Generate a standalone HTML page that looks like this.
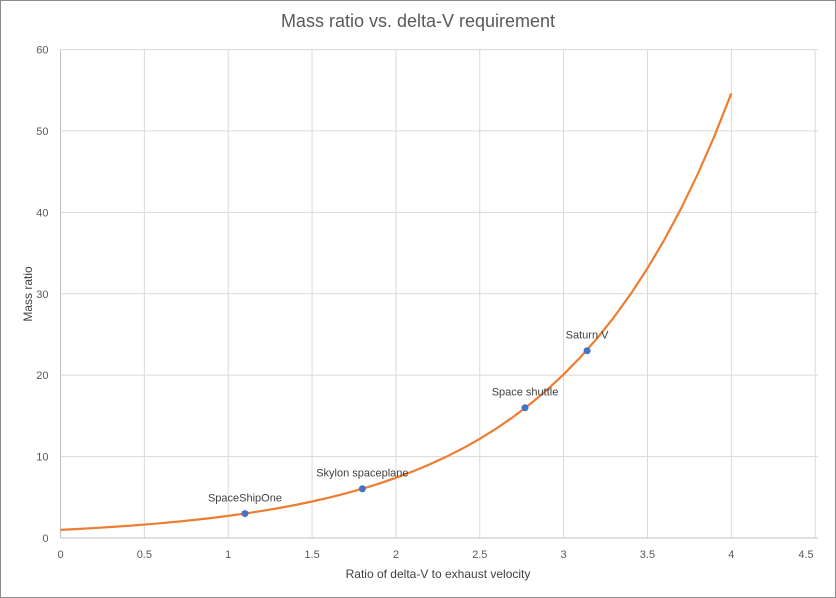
<!DOCTYPE html>
<html><head><meta charset="utf-8"><style>
body{margin:0;background:#fff;}
svg{display:block;font-family:"Liberation Sans",sans-serif;}
</style></head><body>
<svg id="c" width="836" height="598">
<rect x="0.5" y="0.5" width="835" height="597" fill="#fff" stroke="#8c8c8c"/>
<text x="418" y="27" text-anchor="middle" font-size="18" fill="#595959">Mass ratio vs. delta-V requirement</text>
<g id="grid"></g><g id="ticks"></g><g id="series"></g><g id="pts"></g>
<text x="438" y="578" text-anchor="middle" font-size="12" fill="#404040">Ratio of delta-V to exhaust velocity</text>
<text transform="translate(32,294) rotate(-90)" text-anchor="middle" font-size="12" fill="#404040">Mass ratio</text>
</svg>
<script>
const xTicks=[0,0.5,1,1.5,2,2.5,3,3.5,4,4.5];
const yTicks=[0,10,20,30,40,50,60];
const curveX=[0,0.1,0.2,0.3,0.4,0.5,0.6,0.7,0.8,0.9,1,1.1,1.2,1.3,1.4,1.5,1.6,1.7,1.8,1.9,2,2.1,2.2,2.3,2.4,2.5,2.6,2.7,2.8,2.9,3,3.1,3.2,3.3,3.4,3.5,3.6,3.7,3.8,3.9,4];
const curveY=[1,1.105,1.221,1.35,1.492,1.649,1.822,2.014,2.226,2.46,2.718,3.004,3.32,3.669,4.055,4.482,4.953,5.474,6.05,6.686,7.389,8.166,9.025,9.974,11.02,12.18,13.46,14.88,16.44,18.17,20.09,22.2,24.53,27.11,29.96,33.12,36.6,40.45,44.7,49.4,54.6];
const vehicles=["SpaceShipOne","Skylon spaceplane","Space shuttle","Saturn V"];
const vehX=[1.1,1.8,2.77,3.14];
const vehY=[3.0,6.05,16.0,23.0];
const X0=60.5,X1=818,Y0=538,Y1=49.5;
const xs=v=>Math.min(X0+v*167.7,X1), ys=v=>Y0-(v/60)*(Y0-Y1);
const NS="http://www.w3.org/2000/svg";
function mk(t,a,p){const e=document.createElementNS(NS,t);for(const k in a)e.setAttribute(k,a[k]);document.getElementById(p).appendChild(e);return e;}
xTicks.forEach(v=>{
 const l=mk('line',{x1:xs(v),x2:xs(v),y1:Y1,y2:Y0,stroke:v===0?'#bfbfbf':'#d9d9d9'},'grid');
 
 
 const t=mk('text',{x:v===4.5?806:xs(v),y:Y0+20,'text-anchor':'middle','font-size':11,fill:'#595959'},'ticks');t.textContent=v;
 
 
});
yTicks.forEach(v=>{
 const l=mk('line',{x1:X0,x2:X1,y1:ys(v),y2:ys(v),stroke:v===0?'#bfbfbf':'#d9d9d9'},'grid');
 
 
 const t=mk('text',{x:X0-12,y:ys(v)+4,'text-anchor':'end','font-size':11,fill:'#595959'},'ticks');t.textContent=v;
 
 
});
const p=mk('polyline',{points:curveX.map((x,i)=>xs(x)+','+ys(curveY[i])).join(' '),fill:'none',stroke:'#ed7d31','stroke-width':2.2,'stroke-linejoin':'round'},'series');


vehicles.forEach((n,i)=>{
 const c=mk('circle',{cx:xs(vehX[i]),cy:ys(vehY[i]),r:3.5,fill:'#4472c4'},'pts');
 
 
 const t=mk('text',{x:xs(vehX[i]),y:ys(vehY[i])-12,'text-anchor':'middle','font-size':11,fill:'#404040'},'pts');t.textContent=n;
 
 
});
</script>
</body></html>
